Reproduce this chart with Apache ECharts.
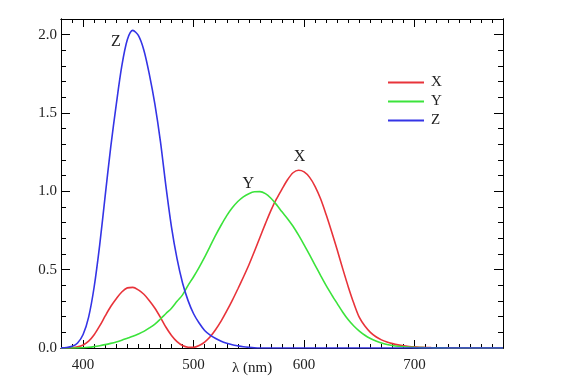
<!DOCTYPE html>
<html><head><meta charset="utf-8">
<script src="https://cdn.jsdelivr.net/npm/echarts@6/dist/echarts.min.js"></script>
<style>html,body{margin:0;padding:0;background:#fff}#c{width:561px;height:388px}</style>
</head><body><div id="c"></div>
<script>
const wavelengths = [380,385,390,395,400,405,410,415,420,425,430,435,440,445,450,455,460,465,470,475,480,485,490,495,500,505,510,515,520,525,530,535,540,545,550,555,560,565,570,575,580,585,590,595,600,605,610,615,620,625,630,635,640,645,650,655,660,665,670,675,680,685,690,695,700,705,710,715,720,725,730,735,740,745,750,755,760,765,770,775,780];
const xValues = [0.00016,0.00066,0.00236,0.00724,0.01911,0.0434,0.08474,0.14064,0.20449,0.26474,0.31468,0.35772,0.38373,0.38673,0.3707,0.34296,0.30227,0.25409,0.19562,0.13235,0.08051,0.04107,0.01617,0.00513,0.00382,0.01544,0.03747,0.07136,0.11775,0.17295,0.23649,0.30421,0.37677,0.45158,0.52983,0.61605,0.70522,0.79383,0.87866,0.95116,1.01416,1.0743,1.11852,1.1343,1.12399,1.0891,1.03048,0.95074,0.85,0.74,0.625,0.505,0.39,0.285,0.195,0.14,0.1,0.072,0.052,0.038,0.028,0.02,0.014,0.01,0.007,0.0049,0.0034,0.0024,0.0017,0.0012,0.0009,0.0006,0.0004,0.0003,0.0002,0.00015,0.0001,0.00008,0.00006,0.00004,0.00003];
const yValues = [0.00002,0.00007,0.00025,0.00077,0.002,0.00451,0.00876,0.01446,0.02139,0.0295,0.03868,0.0496,0.06208,0.0747,0.08946,0.10626,0.1282,0.15276,0.18519,0.21994,0.25359,0.29767,0.33913,0.4,0.455,0.515,0.58,0.65,0.72,0.785,0.845,0.895,0.935,0.965,0.985,0.997,0.998,0.985,0.95555,0.91518,0.86893,0.82562,0.77741,0.72035,0.65834,0.59388,0.52796,0.46183,0.39806,0.33955,0.28349,0.22825,0.17983,0.14021,0.10763,0.08119,0.06028,0.0441,0.0318,0.0226,0.01591,0.01113,0.00775,0.00538,0.00372,0.00257,0.00177,0.00122,0.00085,0.00059,0.00041,0.00028,0.0002,0.00014,0.0001,0.00007,0.00005,0.00004,0.00003,0.00002,0.00001];
const zValues = [0.0007,0.00293,0.01048,0.03234,0.08601,0.19712,0.38937,0.65676,0.97254,1.2825,1.55348,1.7985,1.96728,2.0273,1.9948,1.9007,1.74537,1.5549,1.31756,1.0302,0.77213,0.57006,0.41525,0.30236,0.2185,0.15925,0.11204,0.08225,0.06071,0.04305,0.03045,0.02058,0.01368,0.00792,0.00399,0.00109,0,0,0,0,0,0,0,0,0,0,0,0,0,0,0,0,0,0,0,0,0,0,0,0,0,0,0,0,0,0,0,0,0,0,0,0,0,0,0,0,0,0,0,0,0];
const seriesNames = ['X','Y','Z'];
const seriesColors = ['#e8333a','#3be33b','#3434e6'];
const xTickValues = [400,500,600,700];
const yTickValues = [0,0.5,1.0,1.5,2.0];
const xAxisTitle = 'λ (nm)';
const peakLabels = [{name:'Z', at:[445,2.0273]}, {name:'Y', at:[555,0.997]}, {name:'X', at:[595,1.1343]}];

const font = '"Liberation Serif","DejaVu Serif",serif';
const txt = '#222';
const chart = echarts.init(document.getElementById('c'), null, {renderer:'canvas'});

function pairs(vals){ return wavelengths.map((w,i)=>[w, vals[i]]); }
const allVals = [xValues, yValues, zValues];

const X_MIN=380, X_MAX=780, Y_MIN=0, Y_MAX=2.1;
const line = {show:true, onZero:false, lineStyle:{color:'#000', width:1}};
function xAx(pos, major){
  return {type:'value', position:pos, min:X_MIN, max:X_MAX, interval:10,
    axisLine:line, splitLine:{show:false},
    axisTick: major ? {show:true, inside:true, length:8, customValues:xTickValues, lineStyle:{color:'#000'}} : {show:true, inside:true, length:4, lineStyle:{color:'#000'}},
    axisLabel: (major && pos==='bottom') ? {show:true, customValues:xTickValues, fontFamily:font, fontSize:15, color:txt, margin:10} : {show:false}};
}
function yAx(pos, major){
  return {type:'value', position:pos, min:Y_MIN, max:Y_MAX, interval:0.1,
    axisLine:line, splitLine:{show:false},
    axisTick: major ? {show:true, inside:true, length:9, customValues:yTickValues, lineStyle:{color:'#000'}} : {show:true, inside:true, length:5, lineStyle:{color:'#000'}},
    axisLabel: (major && pos==='left') ? {show:true, customValues:yTickValues, fontFamily:font, fontSize:15, color:txt, margin:4, formatter:v=>v.toFixed(1)} : {show:false}};
}
const labelOffsets = {Z:[-17,11], Y:[-6,-8], X:[1,-13]};

const option = {
  animation:false,
  backgroundColor:'#fff',
  grid:{left:61, right:58, top:19, bottom:40},
  xAxis:[xAx('bottom',true), xAx('bottom',false), xAx('top',true), xAx('top',false)],
  yAxis:[yAx('left',true), yAx('left',false), yAx('right',true), yAx('right',false)],
  legend:{orient:'vertical', left:383, top:70, itemWidth:36, itemHeight:2, itemGap:4, icon:'rect',
    textStyle:{fontFamily:font, fontSize:15, color:txt, padding:[0,0,0,2]},
    data:seriesNames},
  series: seriesNames.map((n,i)=>{
    const pk = peakLabels.find(p=>p.name===n);
    return {name:n, type:'line', data:pairs(allVals[i]), showSymbol:false, smooth:0.3,
      lineStyle:{color:seriesColors[i], width:1.6}, itemStyle:{color:seriesColors[i]}, z:3,
      markPoint:{symbol:'circle', symbolSize:1, itemStyle:{color:'rgba(0,0,0,0)'},
        label:{show:true, formatter:n, position:'inside', offset:labelOffsets[n], fontFamily:font, fontSize:16, color:txt},
        data:[{coord:pk.at}]}};
  }),
  graphic:[{type:'text', left:232, top:361, style:{text:xAxisTitle, font:'15px '+font, fill:txt}}]
};
chart.setOption(option);
</script></body></html>
